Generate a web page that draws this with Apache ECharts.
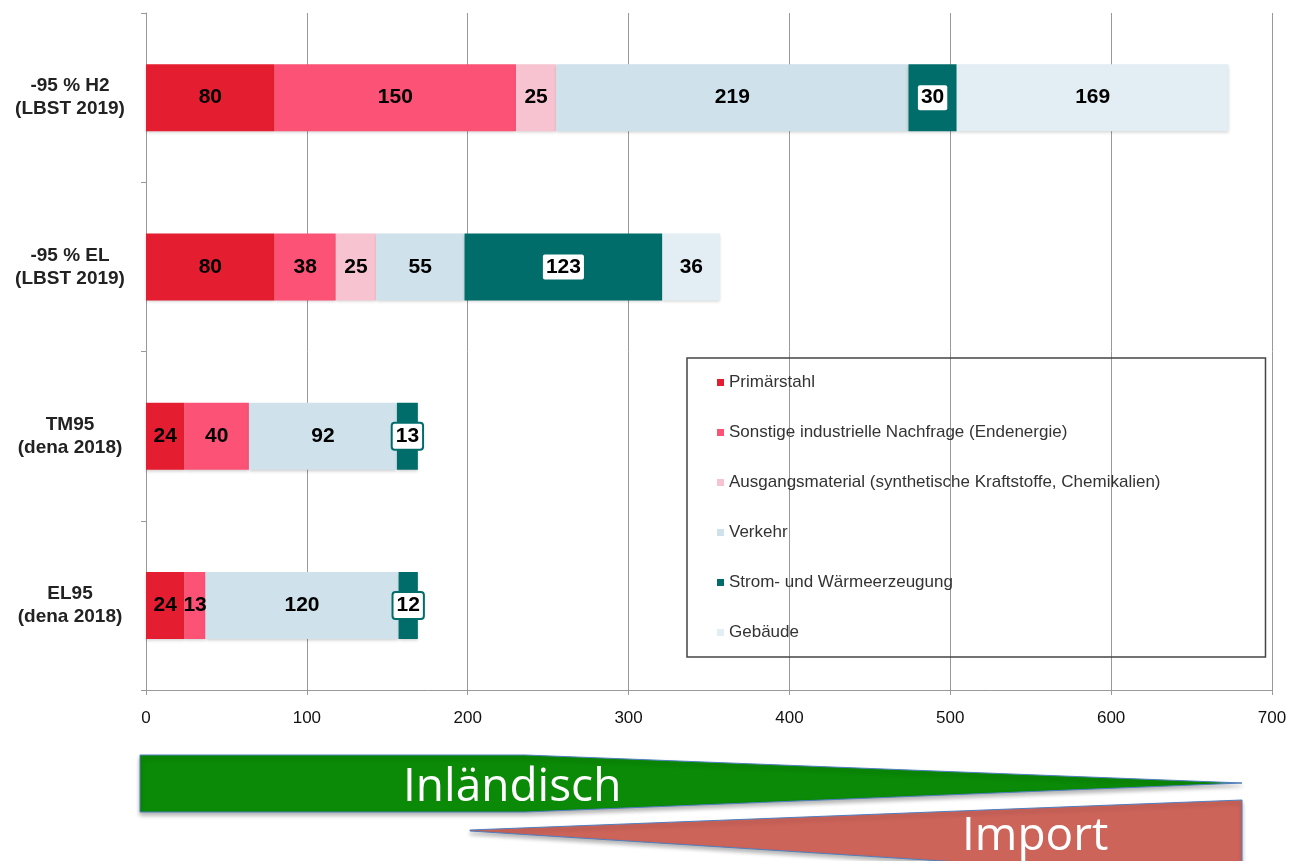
<!DOCTYPE html>
<html>
<head>
<meta charset="utf-8">
<script src="https://cdn.jsdelivr.net/npm/echarts@6/dist/echarts.min.js"></script>
<style>
  html, body { margin: 0; padding: 0; background: #fff; }
  #chart { width: 1296px; height: 861px; }
</style>
</head>
<body>
<div id="chart"></div>
<script>
  // Szenarien (von oben nach unten)
  var categories = ['-95 % H2\n(LBST 2019)', '-95 % EL\n(LBST 2019)', 'TM95\n(dena 2018)', 'EL95\n(dena 2018)'];
  var seriesNames = ['Primärstahl', 'Sonstige industrielle Nachfrage (Endenergie)',
    'Ausgangsmaterial (synthetische Kraftstoffe, Chemikalien)', 'Verkehr',
    'Strom- und Wärmeerzeugung', 'Gebäude'];
  var primaerstahl = [80, 80, 24, 24];
  var sonstige = [150, 38, 40, 13];
  var ausgangsmaterial = [25, 25, 0, 0];
  var verkehr = [219, 55, 92, 120];
  var strom = [30, 123, 13, 12];
  var gebaeude = [169, 36, 0, 0];
  var xTicks = [0, 100, 200, 300, 400, 500, 600, 700];

  var colors = ['#e41d31', '#fb5276', '#f8c3d0', '#cfe1ea', '#006d6b', '#e3eef4'];
  var values = [primaerstahl, sonstige, ausgangsmaterial, verkehr, strom, gebaeude];

  var chart = echarts.init(document.getElementById('chart'));

  var series = values.map(function (vals, i) {
    var label = {
      show: true,
      position: 'inside',
      color: '#000',
      fontSize: 21,
      fontWeight: 'bold',
      fontFamily: 'Liberation Sans, Arial, sans-serif',
      formatter: function (p) { return p.value ? p.value : ''; }
    };
    if (i === 4) {
      label.backgroundColor = '#fff';
      label.borderColor = '#006d6b';
      label.borderWidth = 2;
      label.borderRadius = 2;
      label.padding = [3, 3, 1, 3];
    }
    return {
      name: seriesNames[i],
      type: 'bar',
      stack: 'total',
      barWidth: 67,
      itemStyle: {
        color: colors[i],
        shadowColor: 'rgba(0,0,0,0.18)',
        shadowBlur: 3,
        shadowOffsetY: 2
      },
      label: label,
      data: vals.map(function (v) { return v === 0 ? null : v; })
    };
  });

  chart.setOption({
    animation: false,
    textStyle: { fontFamily: 'Liberation Sans, Arial, sans-serif' },
    grid: { left: 146, right: 24, top: 13, bottom: 171 },
    legend: {
      orient: 'vertical',
      left: 687,
      top: 358,
      padding: [16, 105, 16, 30],
      itemGap: 33,
      itemWidth: 7,
      itemHeight: 7,
      icon: 'rect',
      borderColor: '#444',
      borderWidth: 1.5,
      textStyle: { fontSize: 17, color: '#333' },
      data: seriesNames
    },
    xAxis: {
      type: 'value',
      min: xTicks[0],
      max: xTicks[xTicks.length - 1],
      interval: 100,
      axisLine: { show: true, lineStyle: { color: '#999' } },
      axisTick: { show: true, length: 5, lineStyle: { color: '#999' } },
      axisLabel: { fontSize: 17, color: '#111', margin: 20 },
      splitLine: { show: true, lineStyle: { color: '#999', width: 1 } }
    },
    yAxis: {
      type: 'category',
      inverse: true,
      data: categories,
      axisLine: { show: true, lineStyle: { color: '#999' } },
      axisTick: { show: true, length: 5, lineStyle: { color: '#999' } },
      axisLabel: {
        fontSize: 19,
        fontWeight: 'bold',
        color: '#222',
        align: 'center',
        margin: 76,
        lineHeight: 23
      }
    },
    graphic: [
      {
        type: 'polygon',
        shape: { points: [[140, 755], [525, 755], [1242, 783], [525, 812], [140, 812]] },
        style: { fill: '#0a8a06', stroke: '#4f7fc0', lineWidth: 1, shadowColor: 'rgba(0,0,0,0.3)', shadowBlur: 4, shadowOffsetY: 3 }
      },
      {
        type: 'polygon',
        shape: { points: [[470, 830], [1242, 800], [1242, 880], [470, 831]] },
        style: { fill: '#cd645a', stroke: '#4f7fc0', lineWidth: 1, shadowColor: 'rgba(0,0,0,0.3)', shadowBlur: 4, shadowOffsetY: 3 }
      },
      {
        type: 'text',
        left: 403,
        top: 765,
        style: { text: 'Inländisch', fill: '#fff', font: '46px "Open Sans", sans-serif' }
      },
      {
        type: 'text',
        left: 962,
        top: 814,
        style: { text: 'Import', fill: '#fff', font: '46px "Open Sans", sans-serif' }
      }
    ],
    series: series
  });
</script>
</body>
</html>
